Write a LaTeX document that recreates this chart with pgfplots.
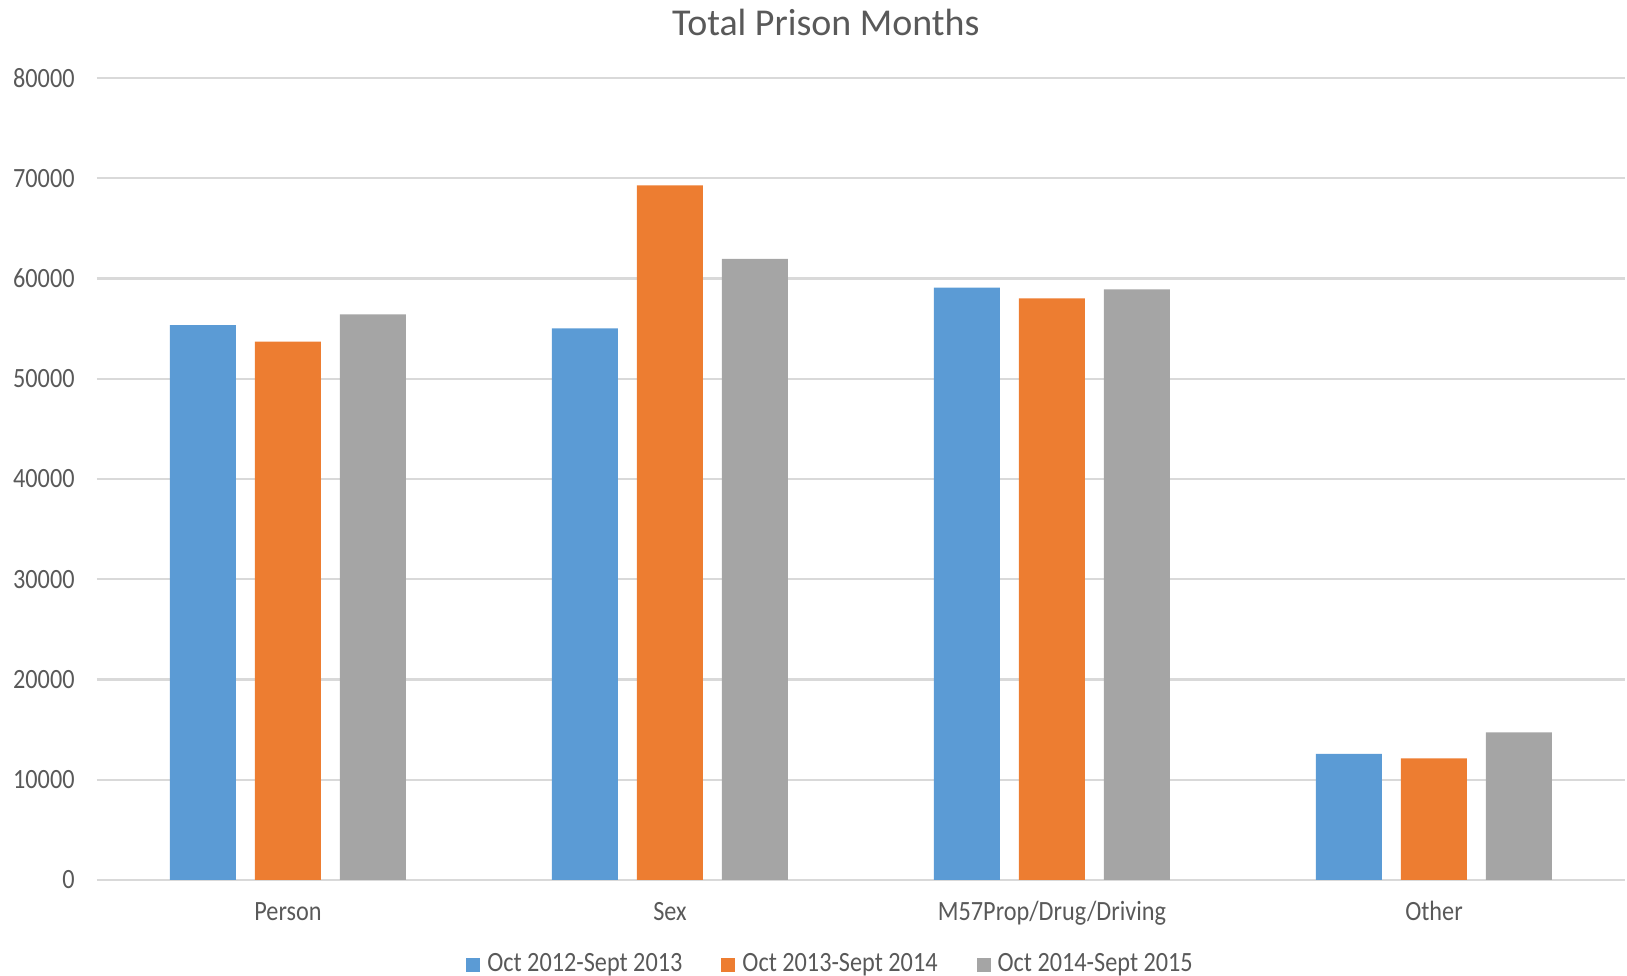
\documentclass[border=0pt]{standalone}
\usepackage{pgfplots}
\pgfplotsset{compat=1.18}
\usepackage{fontspec}
\setmainfont{Carlito}
\definecolor{sblue}{HTML}{5B9BD5}
\definecolor{sorange}{HTML}{ED7D31}
\definecolor{sgray}{HTML}{A5A5A5}
\definecolor{txt}{HTML}{595959}
\definecolor{gridc}{HTML}{D9D9D9}

\begin{document}
\begin{tikzpicture}
  \path[use as bounding box] (-9.7mm,-9.6mm) rectangle (153mm,88mm);
  \begin{axis}[
    at={(0,0)}, anchor=south west,
    scale only axis,
    width=152.8mm, height=80.2mm,
    ybar=1.9mm, bar width=6.6mm,
    xmin=-0.5, xmax=3.5,
    ymin=0, ymax=80000,
    xtick=data,
    xticklabels={Person, Sex, M57Prop/Drug/Driving, Other},
    ytick={0,10000,...,80000},
    scaled y ticks=false,
    /pgf/number format/1000 sep={},
    /pgf/number format/assume math mode=true,
    font=\fontsize{6.9}{8.3}\selectfont,
    tick label style={text=txt, yscale=1.15},
    major tick length=0pt,
    ymajorgrids=true,
    grid style={gridc, line width=0.6pt},
    axis x line*=bottom,
    axis y line*=left,
    y axis line style={draw=none},
    x axis line style={gridc, line width=0.6pt, -},
    xticklabel style={anchor=center, text height=1.6mm, text depth=0.4mm, yshift=-2.9mm},
    yticklabel style={anchor=east, xshift=-1.0mm},
    title={Total Prison Months},
    title style={at={(0.477,1)}, anchor=center, yshift=3.4mm, text=txt, font=\fontsize{10.8}{13}\selectfont},
    legend columns=3,
    legend style={draw=none, fill=none, at={(0.4817,-0.1065)}, anchor=center,
      /tikz/every even column/.append style={column sep=3.2mm}, text=txt,
      nodes={yscale=1.15}},
    legend image code/.code={\fill[#1] (0mm,-0.7mm) rectangle (1.4mm,0.7mm);},
    ]
    \addplot[fill=sblue, draw=none] coordinates {(0,55360) (1,55030) (2,59080) (3,12570)};
    \addplot[fill=sorange, draw=none] coordinates {(0,53700) (1,69290) (2,58020) (3,12140)};
    \addplot[fill=sgray, draw=none] coordinates {(0,56430) (1,61950) (2,58920) (3,14730)};
    \legend{Oct 2012-Sept 2013, Oct 2013-Sept 2014, Oct 2014-Sept 2015}
  \end{axis}
\end{tikzpicture}
\end{document}
